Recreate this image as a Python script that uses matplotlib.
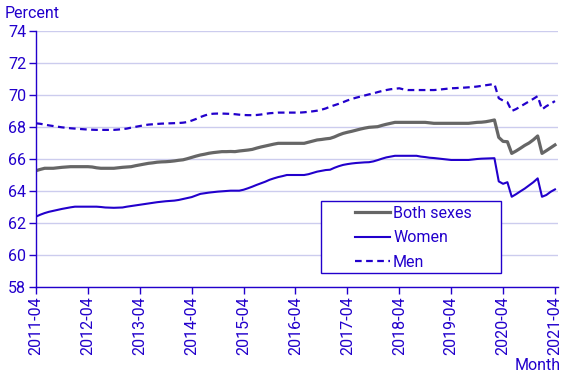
import numpy as np
import matplotlib.pyplot as plt
from matplotlib.patches import Rectangle

plt.rcParams['font.family'] = ['Roboto', 'DejaVu Sans']

BLUE = '#2200cc'
GREY = '#666666'
GRID = '#ccccee'

# monthly values, 2011-04 .. 2021-04
tick_labels = ['2011-04', '2012-04', '2013-04', '2014-04', '2015-04', '2016-04',
               '2017-04', '2018-04', '2019-04', '2020-04', '2021-04']

both = [65.27, 65.35, 65.42, 65.42, 65.42, 65.45, 65.48, 65.50, 65.52, 65.52,
        65.52, 65.52, 65.52, 65.50, 65.45, 65.42, 65.42, 65.42, 65.42, 65.45,
        65.48, 65.50, 65.52, 65.58, 65.63, 65.68, 65.73, 65.76, 65.80, 65.82,
        65.83, 65.85, 65.88, 65.92, 65.95, 66.02, 66.10, 66.18, 66.25, 66.30,
        66.36, 66.40, 66.43, 66.46, 66.46, 66.47, 66.46, 66.50, 66.53, 66.56,
        66.60, 66.68, 66.75, 66.81, 66.87, 66.93, 66.98, 66.98, 66.98, 66.98,
        66.98, 66.98, 66.98, 67.05, 67.12, 67.19, 67.22, 67.26, 67.29, 67.38,
        67.50, 67.60, 67.67, 67.73, 67.80, 67.87, 67.93, 67.98, 68.00, 68.02,
        68.10, 68.17, 68.23, 68.29, 68.29, 68.29, 68.29, 68.29, 68.29, 68.29,
        68.29, 68.26, 68.23, 68.23, 68.23, 68.23, 68.23, 68.23, 68.23, 68.23,
        68.23, 68.26, 68.29, 68.30, 68.33, 68.38, 68.44, 67.35, 67.10, 67.08,
        66.35, 66.50, 66.67, 66.85, 67.00, 67.20, 67.44, 66.35, 66.52, 66.70,
        66.88]

women = [62.40, 62.52, 62.62, 62.70, 62.76, 62.82, 62.88, 62.93, 62.98, 63.02,
         63.02, 63.02, 63.02, 63.02, 63.02, 63.00, 62.97, 62.96, 62.95, 62.96,
         62.97, 63.02, 63.06, 63.10, 63.14, 63.18, 63.22, 63.26, 63.30, 63.33,
         63.36, 63.38, 63.40, 63.44, 63.50, 63.56, 63.62, 63.72, 63.82, 63.86,
         63.90, 63.93, 63.96, 63.98, 64.00, 64.02, 64.02, 64.02, 64.08, 64.17,
         64.27, 64.38, 64.48, 64.58, 64.70, 64.79, 64.87, 64.93, 65.00, 65.00,
         65.00, 65.00, 65.00, 65.05, 65.13, 65.21, 65.26, 65.31, 65.33, 65.45,
         65.55, 65.63, 65.68, 65.72, 65.75, 65.77, 65.79, 65.80, 65.85, 65.93,
         66.02, 66.10, 66.15, 66.20, 66.20, 66.20, 66.20, 66.20, 66.20, 66.15,
         66.12, 66.08, 66.06, 66.03, 66.00, 65.97, 65.94, 65.94, 65.94, 65.94,
         65.94, 65.97, 66.00, 66.02, 66.03, 66.04, 66.05, 64.60, 64.45, 64.55,
         63.64, 63.80, 63.98, 64.15, 64.35, 64.55, 64.79, 63.64, 63.75, 63.95,
         64.10]

men = [68.23, 68.20, 68.15, 68.10, 68.06, 68.02, 67.98, 67.95, 67.92, 67.90,
       67.88, 67.86, 67.84, 67.83, 67.82, 67.82, 67.82, 67.82, 67.82, 67.84,
       67.87, 67.90, 67.96, 68.01, 68.06, 68.11, 68.15, 68.17, 68.19, 68.21,
       68.22, 68.23, 68.24, 68.25, 68.27, 68.31, 68.40, 68.50, 68.62, 68.72,
       68.80, 68.83, 68.84, 68.84, 68.83, 68.82, 68.80, 68.77, 68.75, 68.74,
       68.74, 68.75, 68.78, 68.82, 68.86, 68.88, 68.90, 68.90, 68.90, 68.90,
       68.90, 68.90, 68.92, 68.95, 68.98, 69.02, 69.08, 69.16, 69.27, 69.36,
       69.45, 69.55, 69.66, 69.75, 69.83, 69.90, 69.97, 70.04, 70.10, 70.18,
       70.25, 70.31, 70.36, 70.39, 70.42, 70.35, 70.31, 70.31, 70.31, 70.31,
       70.31, 70.31, 70.31, 70.33, 70.36, 70.39, 70.42, 70.43, 70.45, 70.46,
       70.48, 70.50, 70.53, 70.57, 70.61, 70.65, 70.69, 69.80, 69.65, 69.55,
       69.00, 69.12, 69.28, 69.44, 69.60, 69.76, 69.93, 69.10, 69.30, 69.45,
       69.62]

x = np.arange(len(both))

fig = plt.figure(figsize=(5.67, 3.78), dpi=100)
ax = fig.add_axes([36 / 567, 1 - 287 / 378, (558 - 36) / 567, 256 / 378])

ax.plot(x, both, color=GREY, lw=2.3, label='Both sexes')
ax.plot(x, women, color=BLUE, lw=1.5, label='Women')
ax.plot(x, men, color=BLUE, lw=1.6, ls=(0, (3, 2)), label='Men')

ax.set_xlim(0, 120.7)
ax.set_ylim(58, 74)
ax.set_yticks(range(58, 75, 2))
ax.set_xticks(x[::12])
ax.set_xticklabels(tick_labels, rotation=90)
ax.grid(axis='y', color=GRID, lw=1)
ax.set_axisbelow(True)

for s in ['top', 'right']:
    ax.spines[s].set_visible(False)
for s in ['left', 'bottom']:
    ax.spines[s].set_color(BLUE)
    ax.spines[s].set_linewidth(1)
ax.tick_params(colors=BLUE, labelsize=11.5, length=5, width=1, pad=2)

fig.text(5 / 567, 1 - 14 / 378, 'Percent', color=BLUE, fontsize=11.5, va='center', ha='left')
fig.text(561 / 567, 1 - 366 / 378, 'Month', color=BLUE, fontsize=11.5, va='center', ha='right')

# legend box
bx0 = (321 - 36) / 522
by0 = (287 - 273) / 256
ax.add_patch(Rectangle((bx0, by0), (501 - 321) / 522, (273 - 201) / 256,
                       transform=ax.transAxes, fill=True, facecolor='white',
                       edgecolor=BLUE, lw=1, zorder=5))
leg = ax.legend(loc='upper left', bbox_to_anchor=((342 - 36) / 522, (287 - 193) / 256),
                frameon=False, fontsize=11.5, handlelength=2.2, handletextpad=0.2,
                labelspacing=0.6, borderpad=0.3, labelcolor=BLUE)
leg.set_zorder(6)

fig.savefig('out.png', dpi=100)
